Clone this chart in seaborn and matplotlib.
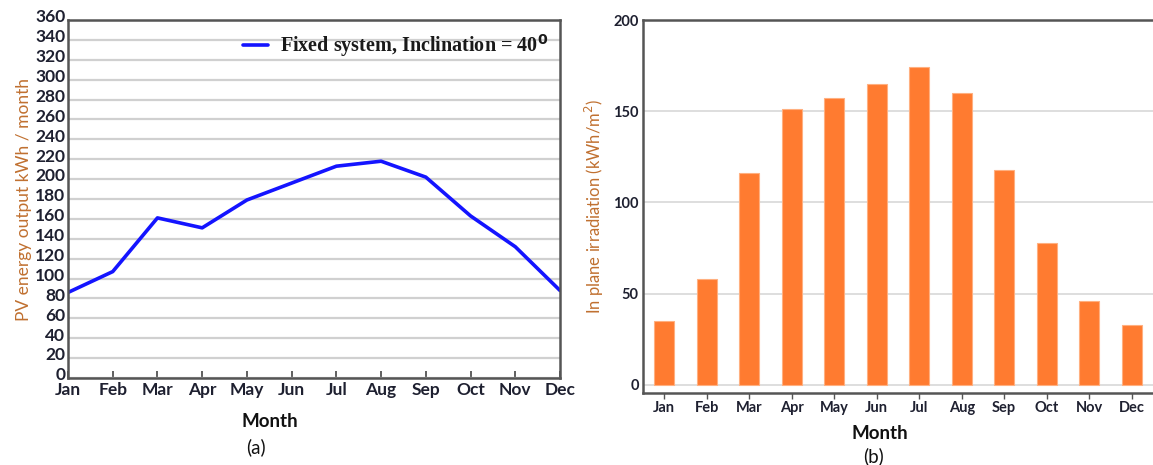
import matplotlib
matplotlib.use("Agg")
import matplotlib.pyplot as plt
from matplotlib.transforms import ScaledTranslation
import seaborn as sns
import pandas as pd

months = ["Jan", "Feb", "Mar", "Apr", "May", "Jun", "Jul", "Aug", "Sep", "Oct", "Nov", "Dec"]
pv_output = [86, 107, 161, 151, 179, 196, 213, 218, 202, 163, 132, 88]
irradiation = [35, 58, 116, 151, 157, 165, 174, 160, 118, 78, 46, 33]
yticks_a = list(range(0, 361, 20))
yticks_b = [0, 50, 100, 150, 200]

sns.set_theme(style="white")
plt.rcParams['font.family'] = ['Lato', 'DejaVu Sans']

W, H = 1153, 465
fig = plt.figure(figsize=(W / 100, H / 100), dpi=100)

tick_col = "#1e2030"
lab_col = "#c07030"
spine_col = "#555555"

# ---------- Panel (a) ----------
ax1 = fig.add_axes([68 / W, 1 - 378 / H, (560 - 68) / W, (378 - 20) / H])
df_a = pd.DataFrame({"Month": months, "Output": pv_output})
sns.lineplot(data=df_a, x="Month", y="Output", sort=False, color="#1414ff", lw=2.6,
             ax=ax1, label="Fixed system, Inclination = 40$^{\\mathbf{0}}$")
ax1.set_xlim(0, len(months) - 1)
ax1.set_ylim(0, 360)
ax1.set_yticks(yticks_a)
ax1.set_xticks(range(len(months)))
ax1.set_xticklabels(months)
ax1.grid(axis="y", color="#d0d0d0", lw=1.6)
ax1.grid(axis="x", visible=False)
for s in ax1.spines.values():
    s.set_color(spine_col)
    s.set_linewidth(1.8)
ax1.tick_params(axis="y", direction="in", length=0, pad=2, labelsize=12.5, labelcolor=tick_col)
ax1.tick_params(axis="x", direction="in", length=5, width=1.2, color="#444444", pad=3,
                labelsize=12.5, labelcolor=tick_col, bottom=True)
for lbl in ax1.get_xticklabels() + ax1.get_yticklabels():
    lbl.set_fontweight("bold")
shift = ScaledTranslation(0, 3 / 72, fig.dpi_scale_trans)
for lbl in ax1.get_yticklabels():
    lbl.set_transform(lbl.get_transform() + shift)
ax1.set_xlabel("")
ax1.set_ylabel("PV energy output kWh / month", color=lab_col, fontsize=12.5, labelpad=2)
leg = ax1.legend(loc="upper right", frameon=False, handlelength=1.2, handletextpad=0.6,
                 borderaxespad=0.2, prop={"family": "Liberation Serif", "weight": "bold", "size": 14.5})
for t in leg.get_texts():
    t.set_color("#1a1a1a")
fig.text(270 / W, 1 - 421 / H, "Month", ha="center", va="center", fontsize=13.5, fontweight="bold", color="#111111")
fig.text(256 / W, 1 - 447 / H, "(a)", ha="center", va="center", fontsize=13.5, color="#111111")

# ---------- Panel (b) ----------
ax2 = fig.add_axes([643 / W, 1 - 393 / H, (1153 - 643) / W, (393 - 20) / H])
df_b = pd.DataFrame({"Month": months, "Irradiation": irradiation})
sns.barplot(data=df_b, x="Month", y="Irradiation", color="#ff7b30", saturation=1,
            width=0.48, edgecolor="#ffb080", linewidth=0.8, ax=ax2)
ax2.set_xlim(-0.5, len(months) - 0.5)
ax2.set_ylim(-4.5, 200)
ax2.set_yticks(yticks_b)
ax2.grid(axis="y", color="#dedede", lw=1.4)
ax2.grid(axis="x", visible=False)
ax2.set_axisbelow(True)
for name, s in ax2.spines.items():
    s.set_color(spine_col)
    s.set_linewidth(1.8)
ax2.spines["right"].set_visible(False)
ax2.tick_params(axis="y", length=0, pad=3, labelsize=10.5, labelcolor=tick_col)
ax2.tick_params(axis="x", direction="out", length=4, width=1.0, color="#555555", pad=2,
                labelsize=10.5, labelcolor=tick_col, bottom=True)
for lbl in ax2.get_xticklabels() + ax2.get_yticklabels():
    lbl.set_fontweight("bold")
ax2.set_xlabel("")
ax2.set_ylabel("In plane irradiation (kWh/m$^2$)", color=lab_col, fontsize=12, labelpad=5)
fig.text(880 / W, 1 - 433 / H, "Month", ha="center", va="center", fontsize=13.5, fontweight="bold", color="#111111")
fig.text(873 / W, 1 - 456 / H, "(b)", ha="center", va="center", fontsize=13.5, color="#111111")

fig.savefig("out.png", dpi=100)
